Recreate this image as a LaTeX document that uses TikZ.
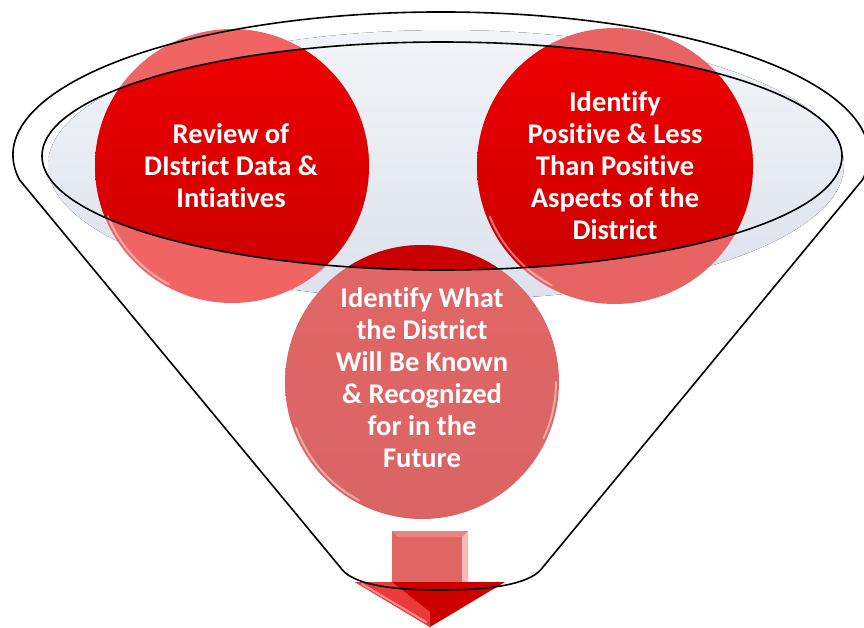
\documentclass[tikz,border=0pt]{standalone}
\usepackage{fontspec}
\setmainfont{Carlito}[RawFeature={-liga;-clig;-calt;-dlig}]
\begin{document}
\begin{tikzpicture}[x=1pt,y=-1pt]
\definecolor{rimTop}{HTML}{F2F4F8}
\definecolor{rimBot}{HTML}{DCE1EC}
\definecolor{lightA}{HTML}{F06464}
\definecolor{lightB}{HTML}{E86464}
\definecolor{paleTop}{HTML}{E26666}
\definecolor{paleMid}{HTML}{F06A6A}
\definecolor{paleBot}{HTML}{DA6464}
\definecolor{darkTop}{HTML}{F00000}
\definecolor{darkBot}{HTML}{C80000}
\definecolor{arrowFace}{HTML}{E06666}
\definecolor{arrowTop}{HTML}{EA8484}
\definecolor{arrowSide}{HTML}{F6BABA}
\definecolor{arrowHead}{HTML}{CC0000}
\definecolor{arrowHeadHi}{HTML}{EC3A3A}
\tikzset{
  funnel/.style={draw=black, line width=1.6pt, line join=round},
  lbl/.style={text=white, font=\fontsize{28.5}{32}\selectfont\bfseries, align=center, inner sep=0pt},
  shine/.style={draw=white, line width=2pt, opacity=0.45, line cap=round}
}
\useasboundingbox (0,0) rectangle (864,627);
% rim fill
\fill[top color=rimTop, bottom color=rimBot] (446,165) ellipse[x radius=398, y radius=135];
% circles, light parts
\fill[lightA] (232,166) circle[radius=137];
\fill[lightB] (615,166) circle[radius=138];
\shade[top color=paleTop, middle color=paleMid, bottom color=paleBot] (422,382) circle[radius=137];
% circles, parts inside the rim
\begin{scope}
  \clip (442,156) ellipse[x radius=400, y radius=114];
  \shade[top color=darkTop, bottom color=darkBot] (232,166) circle[radius=137];
  \shade[top color=darkTop, bottom color=darkBot] (615,166) circle[radius=138];
  \shade[top color=darkBot, bottom color=darkTop] (422,382) circle[radius=137];
\end{scope}
% highlights
\draw[shine] ([shift={(118:134)}]232,166) arc[start angle=118, end angle=158, radius=134];
\draw[shine] ([shift={(118:135)}]615,166) arc[start angle=118, end angle=158, radius=135];
\draw[shine] ([shift={(118:134)}]422,382) arc[start angle=118, end angle=160, radius=134];
\draw[shine] ([shift={(0:134)}]422,382) arc[start angle=0, end angle=25, radius=134];
% arrow
\fill[arrowFace] (392,531) rectangle (468,582);
\fill[arrowTop] (392,531) -- (468,531) -- (462,537) -- (398,537) -- cycle;
\fill[arrowSide] (468,531) -- (468,582) -- (462,582) -- (462,537) -- cycle;
\fill[arrowHead] (355,582) -- (505,582) -- (430,627) -- cycle;
\fill[arrowHeadHi] (355,582) -- (392,582) -- (430,612) -- (430,627) -- cycle;
\draw[shine] (362,584) -- (426,622);
% funnel
\draw[funnel] (19.5,179.8) arc[start angle=170, end angle=370, x radius=428, y radius=143]
  -- (543,567) .. controls (533,582) and (500,590) .. (440,590)
  .. controls (380,590) and (350,582) .. (340,567) -- cycle;
\draw[funnel] (442,156) ellipse[x radius=400, y radius=114];
% labels
\node[lbl] (t1) at (231,166) {Review of\\DIstrict Data \&\\Intiatives};
\node[lbl] (t2) at (615,166) {Identify\\Positive \& Less\\Than Positive\\Aspects of the\\District};
\node[lbl] (t3) at (422,378) {Identify What\\the District\\Will Be Known\\\& Recognized\\for in the\\Future};
\end{tikzpicture}
\end{document}
